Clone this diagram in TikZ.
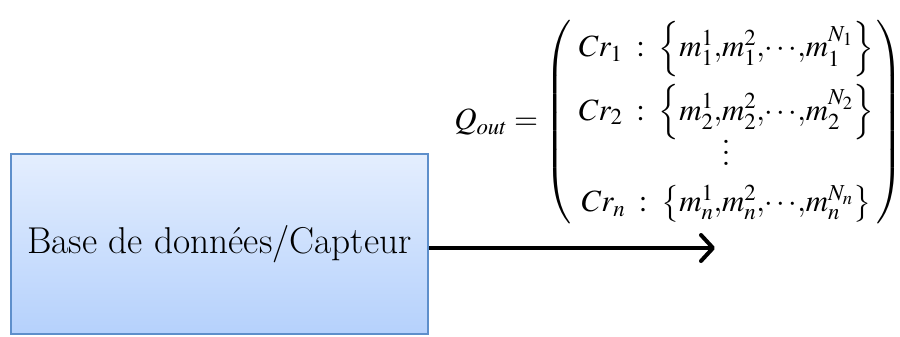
\documentclass[tikz,border=0pt]{standalone}
\usepackage{mathptmx}
\usepackage[no-math]{fontspec}
\usetikzlibrary{arrows.meta,positioning}
\definecolor{dbborder}{HTML}{5E8FCB}
\definecolor{dbtop}{HTML}{E4EEFE}
\definecolor{dbbottom}{HTML}{B5D1FC}
\newcommand{\rowdots}{\vbox{\baselineskip=11bp\lineskiplimit=0pt\hbox{\fontsize{40}{40}\selectfont .}\hbox{\fontsize{40}{40}\selectfont .}\hbox{\fontsize{40}{40}\selectfont .}\kern6bp}}

\begin{document}
\begin{tikzpicture}[x=1bp,y=-1bp,>={Straight Barb[length=12bp,width=26bp,line cap=round,line join=round]}]
    \useasboundingbox (0,0) rectangle (900,336);
    \node[draw=dbborder,line width=2.5bp,top color=dbtop,bottom color=dbbottom,minimum width=417bp,minimum height=180bp,inner sep=0pt,font=\fontsize{37.5}{45}\selectfont] (db) at (219.5,244) {Base de données/Capteur};
    \node[inner sep=0pt,font=\fontsize{31}{37}\selectfont] (qout) at (679,122) {$Q_{out} = \left(\begin{array}{@{\hspace{7bp}}c@{\hspace{3bp}}}
        Cr_1 \;:\; \left\{m_1^1{,}m_1^2{,}{\cdots}{,}m_1^{N_1}\right\} \\[17bp]
        Cr_2 \;:\; \left\{m_2^1{,}m_2^2{,}{\cdots}{,}m_2^{N_2}\right\} \\[5bp]
        \rowdots \\[3bp]
        Cr_n \;:\; \left\{m_n^1{,}m_n^2{,}{\cdots}{,}m_n^{N_n}\right\}
      \end{array}\right)$};
    \coordinate (tip) at (715,248);
    \draw[->,line width=4bp] (db.east |- tip) -- (tip);
  \end{tikzpicture}
\end{document}
